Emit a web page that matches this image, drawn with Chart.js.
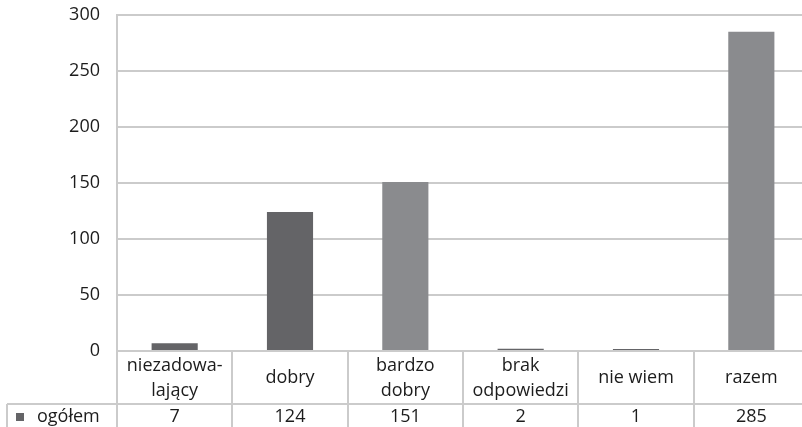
<!DOCTYPE html>
<html>
<head>
<meta charset="utf-8">
<script src="https://cdn.jsdelivr.net/npm/chart.js@4"></script>
<style>
  html, body { margin: 0; padding: 0; background: #fff; overflow: hidden; }
  #wrap { width: 802px; height: 427px; overflow: hidden; }
  canvas { display: block; }
</style>
</head>
<body>
<div id="wrap"><canvas id="c" width="809" height="427"></canvas></div>
<script>
// Category labels, already split into the lines shown in the table header
const categories = [
  ['niezadowa-', 'lający'],
  ['dobry'],
  ['bardzo', 'dobry'],
  ['brak', 'odpowiedzi'],
  ['nie wiem'],
  ['razem']
];
const seriesName = 'ogółem';
const values = [7, 124, 151, 2, 1, 285];
const yTicks = [0, 50, 100, 150, 200, 250, 300];

const DARK = '#646467';
const LIGHT = '#8a8b8e';
const barColors = [DARK, DARK, LIGHT, DARK, DARK, LIGHT];
const GRID = '#cbcbcb';
const TEXT = '#1c1c1c';
const FONT = '"Open Sans", "DejaVu Sans", sans-serif';
const FONT_SIZE = 18;

// Data table drawn under the plot: category headers, series row, borders
const dataTable = {
  id: 'dataTable',
  afterDraw(chart) {
    const ctx = chart.ctx;
    const x = chart.scales.x;
    const area = chart.chartArea;
    const n = categories.length;
    const step = (area.right - area.left) / n;
    const top = area.bottom;
    const rowY = top + 53;
    const bottom = chart.height;
    const tableLeft = 7;

    ctx.save();
    ctx.strokeStyle = GRID;
    ctx.lineWidth = 2;
    ctx.beginPath();
    for (let i = 0; i <= n; i++) {
      const bx = Math.round(area.left + i * step);
      ctx.moveTo(bx, top);
      ctx.lineTo(bx, bottom);
    }
    ctx.moveTo(tableLeft, rowY);
    ctx.lineTo(area.right, rowY);
    ctx.moveTo(tableLeft, rowY);
    ctx.lineTo(tableLeft, bottom);
    ctx.stroke();

    ctx.fillStyle = TEXT;
    ctx.font = FONT_SIZE + 'px ' + FONT;
    ctx.textAlign = 'center';
    ctx.textBaseline = 'middle';
    const lineH = 25;
    categories.forEach((lines, i) => {
      const cx = x.getPixelForValue(i);
      const midY = top + 27;
      const startY = midY - (lines.length - 1) * lineH / 2;
      lines.forEach((t, k) => ctx.fillText(t, cx, startY + k * lineH));
      ctx.fillText(String(values[i]), cx, rowY + 13);
    });

    // series key
    ctx.fillStyle = DARK;
    ctx.fillRect(16, rowY + 9, 8, 8);
    ctx.fillStyle = TEXT;
    ctx.textAlign = 'left';
    ctx.fillText(chart.data.datasets[0].label, 37, rowY + 13);
    ctx.restore();
  }
};

new Chart(document.getElementById('c'), {
  type: 'bar',
  data: {
    labels: categories.map(l => l.join(' ')),
    datasets: [{
      label: seriesName,
      data: values,
      backgroundColor: barColors,
      barPercentage: 0.4,
      categoryPercentage: 1.0,
      minBarLength: 2
    }]
  },
  options: {
    responsive: false,
    animation: false,
    layout: { padding: { top: 15, right: 0, bottom: 76, left: 0 } },
    plugins: { legend: { display: false }, tooltip: { enabled: false } },
    scales: {
      x: { display: false },
      y: {
        min: 0,
        max: 300,
        afterBuildTicks(scale) { scale.ticks = yTicks.map(v => ({ value: v })); },
        afterFit(scale) {
          scale.width = 117;
          scale.paddingTop = 0;
          scale.paddingBottom = 0;
        },
        ticks: {
          padding: 17,
          color: TEXT,
          font: { family: FONT, size: FONT_SIZE }
        },
        grid: { color: GRID, lineWidth: 2, drawTicks: false },
        border: { color: GRID, width: 2 }
      }
    }
  },
  plugins: [dataTable]
});
</script>
</body>
</html>
